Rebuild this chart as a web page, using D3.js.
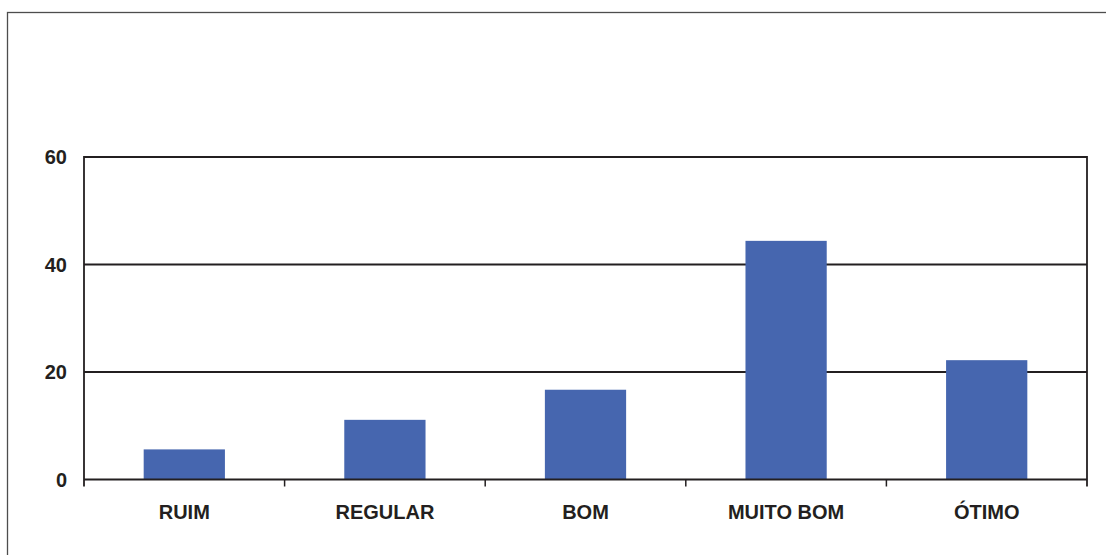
<!DOCTYPE html>
<html>
<head>
<meta charset="utf-8">
<script src="https://cdn.jsdelivr.net/npm/d3@7"></script>
<style>
  html, body { margin: 0; padding: 0; background: #fff; }
  svg { display: block; }
  text { font-family: "Liberation Sans", Arial, sans-serif; font-weight: bold; fill: #231f20; }
</style>
</head>
<body>
<svg id="chart" width="1106" height="555"></svg>
<script>
// Avaliação: percentual de respostas por categoria
const categories = ["RUIM", "REGULAR", "BOM", "MUITO BOM", "ÓTIMO"];
const values = [5.6, 11.1, 16.7, 44.4, 22.2];
const yTicks = [0, 20, 40, 60];

const svg = d3.select("#chart");
const W = 1106, H = 555;
const plot = { left: 84, right: 1087, top: 157, bottom: 479.5 };

// outer frame
svg.append("rect")
  .attr("x", 7.5).attr("y", 12.5)
  .attr("width", W + 10).attr("height", H + 10)
  .attr("fill", "none").attr("stroke", "#4d4d4d").attr("stroke-width", 1.3);

const x = d3.scaleBand()
  .domain(categories)
  .range([plot.left, plot.right])
  .paddingInner(0.595).paddingOuter(0.2975);

const xOuter = d3.scaleBand().domain(categories).range([plot.left, plot.right]);

const y = d3.scaleLinear().domain([0, 60]).range([plot.bottom, plot.top]);

// horizontal gridlines
svg.append("g").selectAll("line")
  .data(yTicks.filter(d => d > 0))
  .join("line")
  .attr("x1", plot.left).attr("x2", plot.right)
  .attr("y1", d => y(d)).attr("y2", d => y(d))
  .attr("stroke", "#231f20").attr("stroke-width", 1.8);

// bars
svg.append("g").selectAll("rect")
  .data(values)
  .join("rect")
  .attr("x", (d, i) => x(categories[i]))
  .attr("width", x.bandwidth())
  .attr("y", d => y(d))
  .attr("height", d => y(0) - y(d))
  .attr("fill", "#4666af");

// y axis line
svg.append("line")
  .attr("x1", plot.left).attr("x2", plot.left)
  .attr("y1", plot.top - 0.9).attr("y2", plot.bottom + 7)
  .attr("stroke", "#231f20").attr("stroke-width", 1.8);

// right frame line
svg.append("line")
  .attr("x1", plot.right).attr("x2", plot.right)
  .attr("y1", plot.top - 0.9).attr("y2", plot.bottom + 7)
  .attr("stroke", "#231f20").attr("stroke-width", 1.8);

// x axis baseline
svg.append("line")
  .attr("x1", plot.left).attr("x2", plot.right)
  .attr("y1", y(0)).attr("y2", y(0))
  .attr("stroke", "#231f20").attr("stroke-width", 1.8);

// category boundary ticks
svg.append("g").selectAll("line")
  .data(categories.slice(1))
  .join("line")
  .attr("x1", d => xOuter(d)).attr("x2", d => xOuter(d))
  .attr("y1", y(0)).attr("y2", y(0) + 7)
  .attr("stroke", "#231f20").attr("stroke-width", 1.5);

// category labels
svg.append("g").selectAll("text")
  .data(categories)
  .join("text")
  .attr("x", d => xOuter(d) + xOuter.bandwidth() / 2)
  .attr("y", 519)
  .attr("text-anchor", "middle")
  .attr("font-size", 20)
  .text(d => d);

// y tick labels
svg.append("g").selectAll("text")
  .data(yTicks)
  .join("text")
  .attr("x", 67)
  .attr("y", d => y(d) + 7)
  .attr("text-anchor", "end")
  .attr("font-size", 20)
  .text(d => d);
</script>
</body>
</html>
